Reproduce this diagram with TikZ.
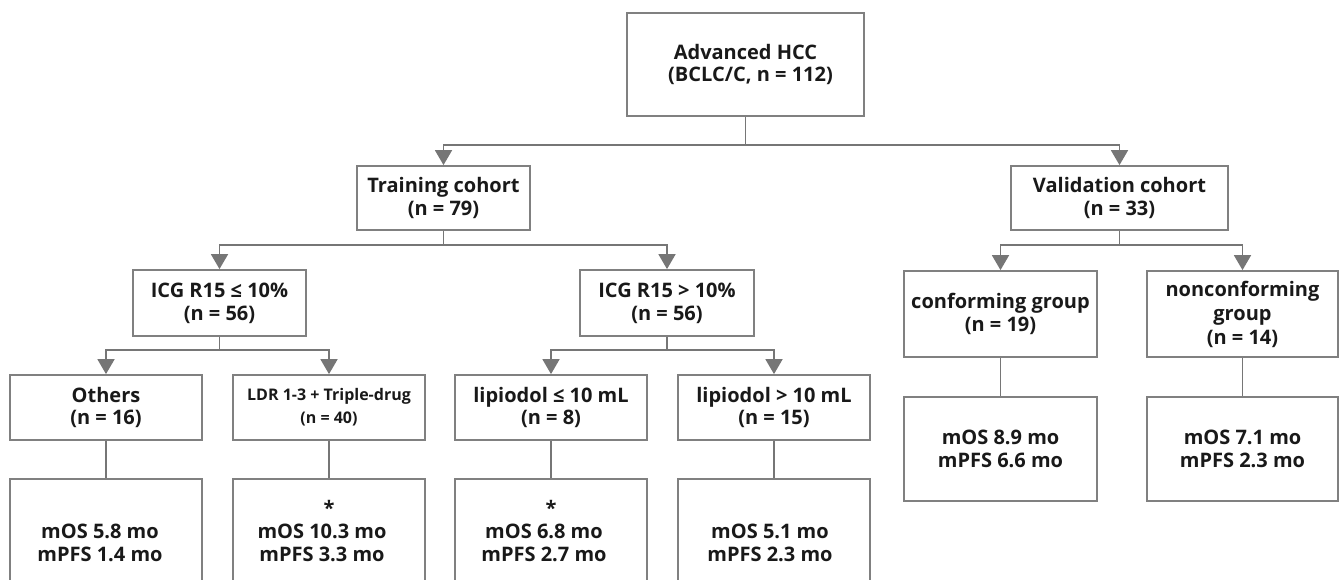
\documentclass[tikz,border=0pt]{standalone}
\usepackage{fontspec}
\setmainfont{Open Sans}
\usetikzlibrary{arrows.meta}
\definecolor{boxgray}{RGB}{128,128,128}
\definecolor{linegray}{RGB}{118,118,118}
\definecolor{txt}{RGB}{25,25,25}
\begin{document}
\begin{tikzpicture}[x=1pt,y=-1pt,
  box/.style={draw=boxgray, line width=1.8pt, rectangle, inner sep=0pt, align=center,
    font=\fontsize{20}{22.8}\selectfont\bfseries, text=txt},
  lbl/.style={inner sep=0pt, align=center, font=\fontsize{20}{22.8}\selectfont\bfseries, text=txt},
  conn/.style={draw=linegray, line width=1.8pt},
  arr/.style={conn, -{Triangle[length=15pt,width=17pt]}}]
\useasboundingbox (0,0) rectangle (1341,580);
\clip (0,0) rectangle (1341,580);
% level 0
\node[box, minimum width=237pt, minimum height=103pt] (top) at (745.5,64.5) {Advanced HCC\\\hspace*{10pt}(BCLC/C, n = 112)};
% level 1
\node[box, minimum width=173pt, minimum height=64pt] (train) at (443.5,198) {Training cohort\\(n = 79)};
\node[box, minimum width=217pt, minimum height=64pt] (valid) at (1119.5,198) {Validation cohort\\(n = 33)};
% level 2
\node[box, minimum width=173pt, minimum height=66pt] (icgle) at (219.5,303) {ICG R15 ≤ 10\%\\(n = 56)};
\node[box, minimum width=174pt, minimum height=66pt] (icggt) at (667,303) {ICG R15 > 10\%\\(n = 56)};
\node[box, minimum width=193pt, minimum height=86pt] (conf) at (1000.5,314) {conforming group\\(n = 19)};
\node[box, minimum width=191pt, minimum height=86pt, font=\fontsize{20}{24}\selectfont\bfseries] (nonconf) at (1242.5,314) {nonconforming\\group\\(n = 14)};
% level 3
\node[box, minimum width=192pt, minimum height=65pt] (others) at (106,407.5) {Others\\(n = 16)};
\node[box, minimum width=192pt, minimum height=65pt, font=\fontsize{16}{23}\selectfont\bfseries] (ldr) at (329,407.5) {LDR 1-3 + Triple-drug\\(n = 40)};
\node[box, minimum width=192pt, minimum height=65pt] (liple) at (551,407.5) {lipiodol ≤ 10 mL\\(n = 8)};
\node[box, minimum width=192pt, minimum height=65pt] (lipgt) at (774,407.5) {lipiodol > 10 mL\\(n = 15)};
\node[box, minimum width=193pt, minimum height=104pt] (confres) at (1000.5,449) {mOS 8.9 mo\\mPFS 6.6 mo};
\node[box, minimum width=191pt, minimum height=104pt] (nonconfres) at (1242.5,449) {mOS 7.1 mo\\mPFS 2.3 mo};
% level 4 (cut at the bottom edge)
\node[box, minimum width=192pt, minimum height=121pt] (othersres) at (106,539.5) {};
\node[box, minimum width=192pt, minimum height=121pt] (ldrres) at (329,539.5) {};
\node[box, minimum width=192pt, minimum height=121pt] (lipleres) at (551,539.5) {};
\node[box, minimum width=192pt, minimum height=121pt] (lipgtres) at (774,539.5) {};
\node[lbl] (t1) at (100,543) {mOS 5.8 mo\\mPFS 1.4 mo};
\node[lbl, anchor=base] (s2) at (329,515) {*};
\node[lbl] (t2) at (322,543) {mOS 10.3 mo\\mPFS 3.3 mo};
\node[lbl, anchor=base] (s3) at (551,515) {*};
\node[lbl] (t3) at (544,543) {mOS 6.8 mo\\mPFS 2.7 mo};
\node[lbl] (t4) at (770,543) {mOS 5.1 mo\\mPFS 2.3 mo};
% connectors
\draw[conn] (top.south) -- ++(0,28) coordinate (j0);
\draw[arr] (j0) -| (train.north);
\draw[arr] (j0) -| (valid.north);
\draw[conn] (train.south) -- ++(0,14) coordinate (j1);
\draw[arr] (j1) -| (icgle.north);
\draw[arr] (j1) -| (icggt.north);
\draw[conn] (valid.south) -- ++(0,14) coordinate (j2);
\draw[arr] (j2) -| (conf.north);
\draw[arr] (j2) -| (nonconf.north);
\draw[conn] (icgle.south) -- ++(0,13) coordinate (j3);
\draw[arr] (j3) -| (others.north);
\draw[arr] (j3) -| (ldr.north);
\draw[conn] (icggt.south) -- ++(0,13) coordinate (j4);
\draw[arr] (j4) -| (liple.north);
\draw[arr] (j4) -| (lipgt.north);
\draw[conn] (others.south) -- (othersres.north);
\draw[conn] (ldr.south) -- (ldrres.north);
\draw[conn] (liple.south) -- (lipleres.north);
\draw[conn] (lipgt.south) -- (lipgtres.north);
\draw[conn] (conf.south) -- (confres.north);
\draw[conn] (nonconf.south) -- (nonconfres.north);
\end{tikzpicture}
\end{document}
